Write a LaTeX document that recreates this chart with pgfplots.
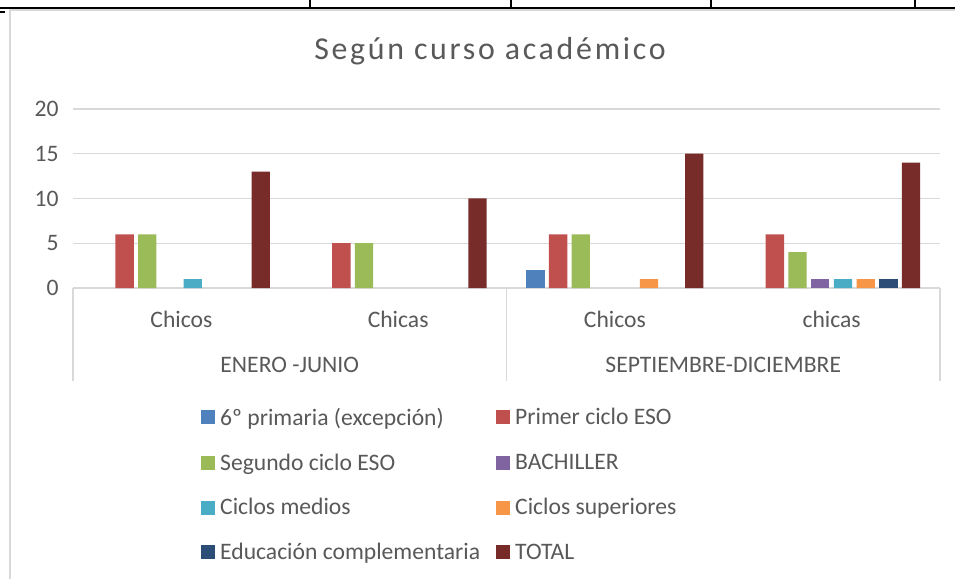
\documentclass[border=0pt]{standalone}
\usepackage{pgfplots}
\pgfplotsset{compat=1.18}
\usepackage{pgfplotstable}
\usepackage{fontspec}
\setmainfont{Carlito}
\newfontfamily\titlefont[LetterSpace=8.5]{Carlito}
\definecolor{c1}{HTML}{4F81BD}
\definecolor{c2}{HTML}{C0504D}
\definecolor{c3}{HTML}{9BBB59}
\definecolor{c4}{HTML}{8064A2}
\definecolor{c5}{HTML}{4BACC6}
\definecolor{c6}{HTML}{F79646}
\definecolor{c7}{HTML}{2C4D75}
\definecolor{c8}{HTML}{772C2A}
\definecolor{txt}{HTML}{595959}
\definecolor{gridc}{HTML}{D9D9D9}

\pgfplotstableread{
x p6 pc sc ba cm cs ec tot
0 0 6 6 0 1 0 0 13
1 0 5 5 0 0 0 0 10
2 2 6 6 0 0 1 0 15
3 0 6 4 1 1 1 1 14
}\datatable

\pgfplotsset{leg/.style={legend image code/.code={\fill[##1] (0bp,-7bp) rectangle (14bp,7bp);}}}

\begin{document}
\begin{tikzpicture}
\useasboundingbox (0bp,0bp) rectangle (955bp,579bp);
\fill[white] (0bp,0bp) rectangle (955bp,579bp);
% remnants of the table above
\draw[black, line width=1.6bp] (0bp,571bp) -- (955bp,571bp);
\foreach \xx in {310,511,711,915} \draw[black, line width=1.2bp] (\xx bp,579bp) -- (\xx bp,571bp);
\draw[black, line width=1.6bp] (0bp,567bp) -- (5bp,567bp);
% chart frame
\draw[gridc, line width=1.5bp] (10bp,0bp) -- (10bp,569bp) -- (955bp,569bp);

\begin{axis}[
  at={(73bp,291bp)}, anchor=south west,
  width=867bp, height=179bp, scale only axis,
  ybar=4.4bp, bar width=18.3bp,
  xmin=-0.5, xmax=3.5, ymin=0, ymax=20,
  ytick={0,5,10,15,20},
  xtick={0,1,2,3},
  xticklabels={Chicos,Chicas,Chicos,chicas},
  ymajorgrids, grid style={draw=gridc, line width=1.3bp},
  axis x line*=bottom, axis y line*=left,
  x axis line style={draw=gridc, line width=1.3bp, -},
  y axis line style={draw=none},
  major tick length=0pt,
  tick label style={font=\fontsize{23.7}{28}\selectfont, text=txt},
  /pgf/number format/assume math mode=true,
  yticklabel style={xshift=-11bp},
  xticklabel style={anchor=base, yshift=-39bp},
  clip=false,
  unbounded coords=discard,
  y filter/.expression={y==0 ? nan : y},
  legend columns=2,
  legend cell align=left,
  legend style={at={(axis description cs:0.1476,-0.652)}, anchor=north west,
    draw=none, fill=none, inner sep=0pt,
    font=\fontsize{23.7}{28}\selectfont, text=txt,
    row sep=21bp,
    nodes={inner sep=3bp},
    /tikz/every odd column/.append style={column sep=2bp},
    /tikz/every even column/.append style={column sep=13bp}},
]
\addplot[fill=c1, draw=none, leg] table[x=x,y=p6]{\datatable};
\addlegendentry{6º primaria (excepción)}
\addplot[fill=c2, draw=none, leg] table[x=x,y=pc]{\datatable};
\addlegendentry{Primer ciclo ESO}
\addplot[fill=c3, draw=none, leg] table[x=x,y=sc]{\datatable};
\addlegendentry{Segundo ciclo ESO}
\addplot[fill=c4, draw=none, leg] table[x=x,y=ba]{\datatable};
\addlegendentry{BACHILLER}
\addplot[fill=c5, draw=none, leg] table[x=x,y=cm]{\datatable};
\addlegendentry{Ciclos medios}
\addplot[fill=c6, draw=none, leg] table[x=x,y=cs]{\datatable};
\addlegendentry{Ciclos superiores}
\addplot[fill=c7, draw=none, leg] table[x=x,y=ec]{\datatable};
\addlegendentry{Educación complementaria}
\addplot[fill=c8, draw=none, leg] table[x=x,y=tot]{\datatable};
\addlegendentry{TOTAL}

\draw[gridc, line width=1.3bp] (axis cs:-0.5,0) -- ++(0bp,-93bp);
\draw[gridc, line width=1.3bp] (axis cs:1.5,0) -- ++(0bp,-93bp);
\draw[gridc, line width=1.3bp] (axis cs:3.5,0) -- ++(0bp,-93bp);
\node[anchor=base, font=\fontsize{23.7}{28}\selectfont, text=txt] at ([yshift=-84bp]axis cs:0.5,0) {ENERO -JUNIO};
\node[anchor=base, font=\fontsize{23.7}{28}\selectfont, text=txt] at ([yshift=-84bp]axis cs:2.5,0) {SEPTIEMBRE-DICIEMBRE};
\end{axis}

\node[anchor=base, text=txt, font=\titlefont\fontsize{32}{37}\selectfont] at (490bp,519.5bp) {Según curso académico};
\end{tikzpicture}
\end{document}
